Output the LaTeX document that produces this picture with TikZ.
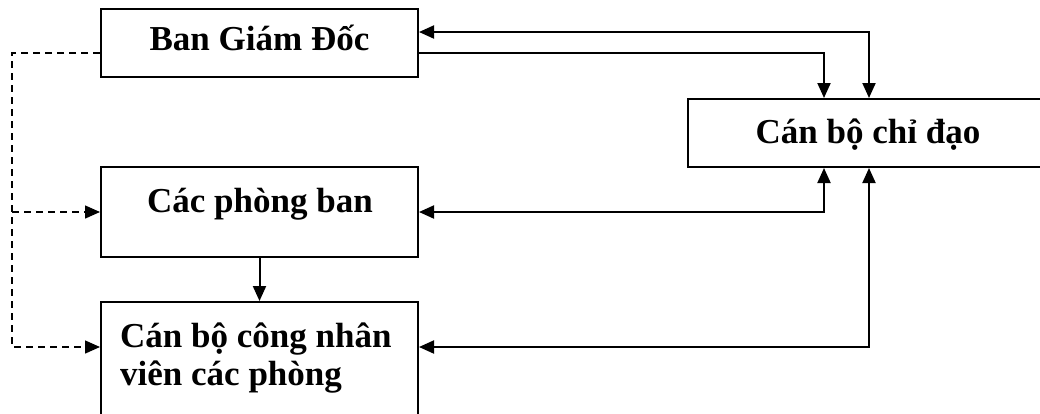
\documentclass[tikz,border=0pt]{standalone}
\usepackage{fontspec}
\setmainfont{Liberation Serif}
\usetikzlibrary{arrows.meta}
\begin{document}
\begin{tikzpicture}[x=1pt,y=-1pt,
  tip/.tip={Triangle[length=15pt,width=13pt]},
  box/.style={draw, line width=2pt, rectangle, inner sep=0pt},
  lbl/.style={inner sep=0pt, font=\fontsize{35}{38}\selectfont\bfseries},
  link/.style={line width=2pt, -tip},
  dlink/.style={line width=2pt, tip-tip},
  dotlink/.style={line width=1.5pt, dash pattern=on 7pt off 5pt, -tip}]
  \useasboundingbox (0,0) rectangle (1040,413);
  \fill[white] (0,0) rectangle (1040,413);
  \clip (0,0) rectangle (1040,413);

  % boxes
  \node[box, minimum width=317pt, minimum height=68pt] (bgd) at (259.5,43) {};
  \node[box, minimum width=360pt, minimum height=68pt] (cbcd) at (868,133) {};
  \node[box, minimum width=317pt, minimum height=90pt] (cpb) at (259.5,212) {};
  \node[box, minimum width=317pt, minimum height=128pt] (cbcnv) at (259.5,366) {};

  % labels
  \node[lbl, anchor=base] (tbgd) at (259.5,50) {Ban Giám Đốc};
  \node[lbl, anchor=base] (tcbcd) at (868,143) {Cán bộ chỉ đạo};
  \node[lbl, anchor=base] (tcpb) at (260,212) {Các phòng ban};
  \node[lbl, anchor=base west] (tcbcnv1) at (120,347) {Cán bộ công nhân};
  \node[lbl, anchor=base west] (tcbcnv2) at (120,385) {viên các phòng};

  % bend points
  \coordinate (a1) at (869,32);
  \coordinate (a2) at (824,53);
  \coordinate (a3) at (824,212);
  \coordinate (a4) at (869,347);
  \coordinate (d1) at (12,53);
  \coordinate (d2) at (12,347);
  \coordinate (d3) at (12,212);

  % solid connectors
  \draw[dlink] (bgd.east |- a1) -- (a1) -- (a1 |- cbcd.north);
  \draw[link] (bgd.east |- a2) -- (a2) -- (a2 |- cbcd.north);
  \draw[dlink] (cpb.east |- a3) -- (a3) -- (a3 |- cbcd.south);
  \draw[dlink] (cbcnv.east |- a4) -- (a4) -- (a4 |- cbcd.south);
  \draw[link] (cpb.south) -- (cbcnv.north);

  % dashed connectors
  \draw[dotlink] (bgd.west |- d1) -- (d1) -- (d2) -- (cbcnv.west |- d2);
  \draw[dotlink] (d3) -- (cpb.west |- d3);
\end{tikzpicture}
\end{document}
